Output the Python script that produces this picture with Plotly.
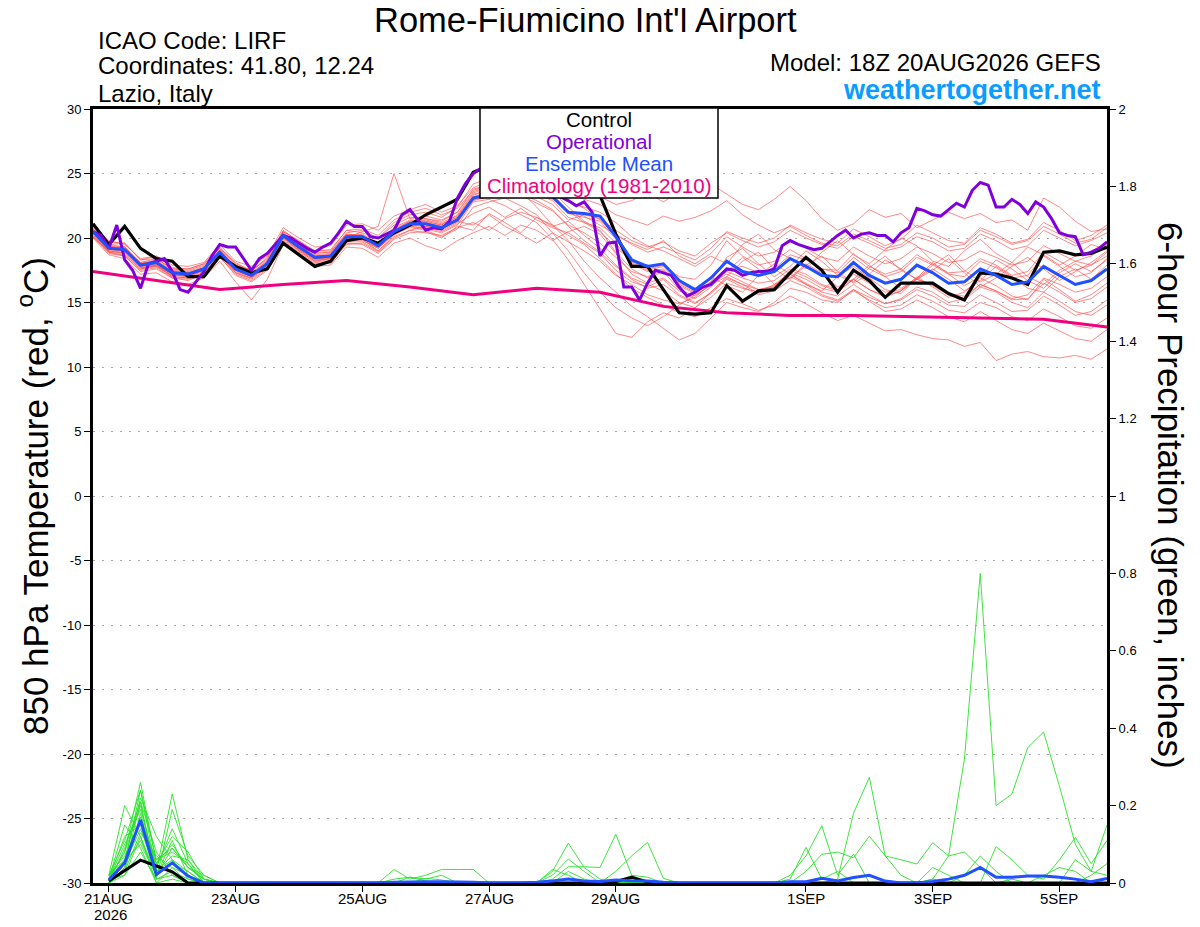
import pandas as pd
import plotly.graph_objects as go

title = "Rome-Fiumicino Int'l Airport"
info_left = ["ICAO Code: LIRF", "Coordinates: 41.80, 12.24", "Lazio, Italy"]
model_run = "Model: 18Z 20AUG2026 GEFS"
site = "weathertogether.net"
legend_rows = ["Control", "Operational", "Ensemble Mean", "Climatology (1981-2010)"]

tick_dates = ["2026-08-21", "2026-08-23", "2026-08-25", "2026-08-27",
              "2026-08-29", "2026-09-01", "2026-09-03", "2026-09-05"]
tick_labels = ["21AUG", "23AUG", "25AUG", "27AUG", "29AUG", "1SEP", "3SEP", "5SEP"]
year_label = "2026"
temp_ticks = [-30, -25, -20, -15, -10, -5, 0, 5, 10, 15, 20, 25, 30]
precip_ticks = [0, 0.2, 0.4, 0.6, 0.8, 1, 1.2, 1.4, 1.6, 1.8, 2]

# 850 hPa temperature, 6-hourly from 20AUG 18Z
control_t = [21.1, 19.5, 20.9, 19.2, 18.4, 18.2, 17.0, 17.0, 18.6, 17.8, 17.3, 17.6, 19.6,
             18.7, 17.8, 18.2, 19.8, 20.0, 19.6, 20.4, 21.0, 21.8, 22.4, 23.0, 25.1, 25.6,
             26.0, 26.3, 26.6, 26.2, 25.7, 25.0, 23.3, 20.3, 17.8, 17.8, 16.0, 14.2, 14.1,
             14.2, 16.3, 15.1, 15.9, 16.0, 17.3, 18.5, 17.5, 15.8, 17.5, 16.7, 15.4, 16.5,
             16.5, 16.5, 15.7, 15.2, 17.3, 17.2, 16.9, 16.4, 18.9, 19.0, 18.7, 18.8, 19.3]

mean_t = [20.5, 19.2, 19.1, 17.9, 18.1, 17.3, 17.2, 17.6, 18.9, 17.6, 17.1, 18.0, 20.2,
          19.3, 18.5, 18.6, 20.1, 20.1, 19.4, 20.5, 21.1, 21.1, 20.8, 21.4, 23.1, 23.4,
          23.6, 23.8, 23.6, 23.2, 22.0, 21.9, 21.7, 20.1, 18.3, 17.8, 18.0, 16.7, 16.0,
          16.9, 18.2, 17.4, 17.1, 17.4, 18.4, 17.8, 17.1, 17.0, 18.1, 17.1, 16.5, 16.8,
          17.9, 17.3, 16.5, 16.6, 17.6, 17.1, 16.4, 16.6, 17.8, 17.1, 16.4, 16.7, 17.6]

# operational run is 3-hourly
oper_t = [20.5, 20.2, 19.2, 21.0, 18.3, 17.5, 16.1, 18.0, 18.2, 18.4,
          17.4, 16.0, 15.8, 16.6, 17.4, 18.6, 19.5, 19.3, 19.3, 18.4,
          17.5, 18.4, 18.8, 19.5, 20.2, 20.0, 19.6, 19.2, 18.9, 19.3,
          19.6, 20.4, 21.3, 20.9, 20.9, 20.1, 20.0, 20.3, 20.6, 21.8,
          22.2, 21.4, 20.6, 20.8, 20.7, 21.3, 23.1, 24.2, 25.0, 25.4,
          25.8, 26.0, 26.2, 26.5, 26.3, 26.0, 25.6, 25.0, 24.2, 23.2,
          22.9, 22.5, 22.8, 22.0, 18.6, 19.6, 19.7, 16.2, 16.2, 15.2,
          16.5, 17.5, 17.3, 17.1, 16.2, 15.5, 15.8, 16.2, 16.4, 17.0,
          17.6, 17.5, 17.1, 17.3, 17.4, 17.4, 17.6, 19.4, 19.8, 19.5,
          19.3, 19.1, 19.2, 19.7, 20.2, 20.6, 20.0, 20.3, 20.4, 20.2,
          20.2, 19.7, 20.4, 20.8, 22.3, 22.1, 21.8, 21.7, 22.2, 22.7,
          22.4, 23.7, 24.3, 24.1, 22.4, 22.4, 23.0, 22.6, 21.9, 22.8,
          22.4, 21.5, 20.4, 20.2, 20.1, 18.7, 18.9, 19.2, 19.7]

# climatology, daily at 18Z
clim_t = [17.4, 16.7, 16.0, 16.4, 16.7, 16.2, 15.6, 16.1, 15.8,
          14.7, 14.2, 14.0, 14.0, 13.9, 13.8, 13.7, 13.1]

t01 = [20.7, 19.5, 19.6, 18.3, 18.6, 17.7, 17.6, 18.0, 19.2, 18.1, 17.4, 18.5, 20.5,
       19.8, 19.0, 19.1, 20.6, 20.4, 20.0, 21.2, 21.8, 22.0, 21.6, 22.4, 24.2, 24.6,
       24.8, 25.1, 24.7, 24.9, 24.3, 23.8, 23.2, 22.6, 22.9, 23.5, 22.8, 23.6, 23.5,
       24.2, 23.4, 22.6, 22.2, 23.0, 24.0, 22.9, 21.5, 20.6, 21.1, 22.2, 21.6, 21.9,
       20.8, 21.4, 22.0, 21.5, 21.9, 21.2, 21.4, 20.6, 23.1, 22.4, 21.3, 20.5, 20.7]
t02 = [20.1, 18.9, 18.6, 17.4, 17.6, 16.9, 16.8, 17.2, 18.6, 17.1, 16.6, 17.5, 19.8,
       18.9, 18.1, 18.0, 19.6, 19.5, 18.8, 19.9, 20.4, 20.5, 20.0, 20.9, 20.6, 21.9,
       21.2, 20.4, 21.6, 21.0, 20.2, 19.5, 18.4, 17.2, 16.1, 15.4, 14.8, 14.2, 13.9,
       14.6, 15.3, 14.9, 14.4, 14.8, 15.5, 14.9, 14.2, 13.6, 14.0, 13.4, 12.8, 12.9,
       12.5, 12.2, 12.1, 11.6, 11.9, 10.5, 11.0, 11.2, 10.8, 10.7, 10.9, 10.6, 11.4]
t03 = [20.3, 19.0, 18.8, 17.6, 17.9, 17.0, 16.9, 17.3, 18.7, 17.3, 16.9, 17.8, 20.0,
       19.1, 18.3, 18.3, 19.8, 19.9, 19.0, 20.2, 20.9, 20.7, 20.4, 21.0, 22.8, 23.0,
       22.5, 21.8, 21.2, 19.9, 18.3, 16.4, 14.5, 12.6, 12.3, 13.5, 14.2, 13.8, 14.6,
       15.8, 16.9, 16.4, 15.7, 16.2, 17.5, 17.0, 16.3, 15.9, 16.8, 16.0, 15.4, 15.9,
       17.0, 16.2, 15.4, 15.8, 16.9, 16.3, 15.5, 15.2, 16.8, 16.0, 15.1, 15.6, 16.5]
t04 = [20.6, 19.3, 19.2, 18.0, 18.3, 17.5, 17.4, 17.8, 19.0, 17.8, 17.3, 18.2, 20.4,
       19.5, 18.8, 18.9, 20.3, 20.2, 19.6, 20.8, 21.4, 21.3, 21.0, 21.8, 23.5, 23.9,
       24.1, 23.6, 22.4, 21.0, 19.8, 18.2, 16.9, 15.8, 14.7, 13.9, 13.0, 12.1, 12.6,
       13.8, 15.0, 14.6, 14.3, 15.0, 16.1, 15.8, 15.2, 15.0, 16.0, 15.4, 14.9, 15.3,
       16.2, 15.8, 15.0, 15.3, 16.4, 15.9, 15.3, 15.6, 16.9, 16.4, 15.8, 16.1, 17.0]
t05 = [20.4, 19.1, 19.0, 17.8, 17.9, 17.2, 17.0, 17.5, 18.8, 17.5, 17.0, 17.9, 20.1,
       19.2, 18.4, 18.5, 20.0, 20.5, 20.9, 25.0, 21.5, 21.7, 21.4, 22.0, 23.6, 24.0,
       23.9, 24.4, 24.1, 23.7, 22.9, 22.3, 21.4, 20.2, 19.6, 19.1, 19.8, 18.6, 18.0,
       18.8, 20.1, 19.3, 18.6, 18.9, 19.8, 19.2, 18.5, 18.2, 19.3, 18.6, 18.0, 18.4,
       19.3, 18.8, 18.1, 18.3, 19.0, 18.5, 17.9, 18.2, 19.4, 18.8, 18.2, 18.6, 19.5]
t06 = [20.0, 18.7, 18.4, 17.2, 17.3, 16.6, 16.4, 16.9, 18.2, 16.6, 15.2, 16.8, 19.5,
       18.6, 17.8, 17.9, 19.3, 19.2, 18.5, 19.6, 20.0, 19.4, 19.0, 19.8, 20.4, 20.9,
       20.2, 21.0, 20.6, 19.8, 20.5, 20.9, 20.3, 18.8, 17.2, 16.5, 16.9, 15.9, 15.3,
       16.2, 17.4, 16.9, 16.5, 16.7, 17.6, 17.2, 16.4, 16.0, 17.2, 16.5, 15.8, 16.0,
       16.8, 16.4, 15.6, 15.2, 16.2, 15.8, 15.0, 14.6, 15.8, 15.1, 14.3, 14.0, 14.8]
t07 = [20.9, 19.8, 19.5, 18.4, 18.6, 17.9, 17.8, 18.1, 19.5, 18.2, 17.8, 18.6, 20.8,
       20.0, 19.3, 19.4, 21.0, 21.1, 20.6, 21.7, 22.2, 22.6, 22.0, 22.5, 23.9, 24.4,
       25.0, 24.6, 24.2, 23.6, 22.4, 21.3, 20.6, 18.9, 17.6, 16.9, 17.4, 16.0, 15.5,
       16.4, 17.0, 18.2, 18.9, 17.6, 16.8, 17.9, 18.6, 17.4, 16.5, 17.2, 18.3, 17.6,
       16.8, 17.9, 18.7, 17.5, 16.6, 17.2, 18.1, 17.0, 16.4, 17.5, 18.2, 17.9, 18.6]
t08 = [20.2, 18.9, 18.9, 17.7, 17.8, 17.1, 17.0, 17.4, 18.6, 17.4, 16.9, 17.8, 20.1,
       19.0, 18.2, 18.4, 19.9, 19.8, 19.2, 20.3, 20.8, 20.6, 20.1, 20.7, 22.4, 22.8,
       23.1, 22.5, 21.8, 20.4, 19.0, 17.3, 15.8, 14.6, 13.8, 13.2, 13.9, 14.8, 15.6,
       16.3, 17.6, 17.8, 17.3, 17.6, 18.7, 18.3, 17.6, 17.3, 18.5, 17.6, 17.0, 17.4,
       18.5, 17.9, 17.2, 17.0, 18.2, 17.7, 16.9, 17.1, 18.6, 17.8, 17.0, 17.3, 18.4]
t09 = [20.6, 19.4, 19.1, 18.1, 18.2, 17.4, 17.3, 17.7, 19.0, 17.7, 17.2, 18.1, 20.3,
       19.4, 18.6, 18.7, 20.2, 20.0, 19.3, 20.4, 21.2, 21.4, 21.1, 21.6, 23.3, 23.8,
       24.2, 24.5, 24.0, 23.5, 22.8, 22.4, 22.0, 21.2, 20.1, 19.4, 19.0, 18.4, 17.8,
       18.6, 18.0, 19.5, 20.3, 19.1, 18.4, 17.6, 18.9, 19.8, 18.7, 18.0, 19.1, 20.0,
       19.4, 18.2, 17.8, 19.0, 19.9, 18.8, 18.1, 19.3, 18.7, 17.9, 18.6, 19.5, 19.1]
t10 = [20.5, 19.2, 19.3, 18.0, 18.1, 17.3, 17.2, 17.6, 18.9, 17.6, 17.1, 18.0, 20.2,
       19.3, 18.5, 18.6, 20.1, 20.3, 19.6, 20.7, 21.3, 21.2, 20.9, 21.5, 23.0, 23.3,
       23.4, 23.9, 23.2, 22.6, 21.4, 21.8, 21.5, 20.6, 19.8, 19.3, 19.7, 19.0, 18.6,
       19.6, 20.4, 19.8, 19.3, 19.7, 20.6, 20.0, 19.5, 19.2, 20.1, 19.6, 19.0, 19.3,
       20.1, 19.7, 19.0, 19.2, 20.3, 19.8, 19.1, 19.4, 20.6, 20.0, 19.4, 19.8, 20.4]
t11 = [20.3, 19.0, 18.9, 17.7, 17.9, 17.1, 17.1, 17.5, 18.8, 17.5, 17.0, 17.9, 20.0,
       19.1, 18.3, 18.4, 19.9, 19.9, 19.2, 20.3, 20.9, 20.8, 20.5, 21.1, 21.9, 22.4,
       21.6, 22.3, 21.4, 20.8, 20.4, 19.6, 18.8, 17.5, 16.6, 16.2, 16.8, 15.6, 15.0,
       15.7, 16.8, 16.2, 15.6, 15.9, 16.7, 16.2, 15.5, 15.1, 15.9, 15.2, 14.6, 14.8,
       15.6, 15.1, 14.4, 14.2, 15.0, 14.6, 13.9, 13.6, 14.5, 13.9, 13.2, 13.0, 13.8]
t12 = [20.8, 19.5, 19.3, 18.1, 18.4, 17.6, 17.5, 17.9, 19.2, 17.9, 17.5, 18.3, 20.5,
       19.7, 18.9, 18.9, 20.4, 20.6, 20.0, 21.0, 21.6, 21.5, 21.3, 22.0, 23.8, 24.1,
       24.5, 25.0, 25.3, 24.8, 23.6, 23.0, 22.6, 21.8, 21.4, 21.0, 21.7, 21.3, 21.6,
       22.1, 22.9, 21.8, 21.0, 20.4, 20.9, 20.2, 19.6, 19.4, 20.3, 19.8, 19.2, 19.5,
       20.4, 20.0, 19.3, 19.5, 20.6, 20.1, 19.5, 19.8, 20.9, 20.3, 19.6, 19.9, 20.8]
t13 = [20.4, 19.2, 19.0, 17.9, 18.0, 17.2, 17.1, 17.5, 18.9, 17.6, 17.1, 18.0, 20.2,
       19.2, 18.4, 18.5, 20.0, 20.1, 19.4, 20.5, 21.0, 20.9, 20.6, 21.2, 22.9, 23.2,
       23.6, 23.3, 22.7, 22.1, 21.0, 20.4, 19.6, 18.5, 17.4, 17.0, 17.5, 16.5, 15.9,
       17.0, 16.3, 15.8, 17.1, 18.0, 17.2, 16.4, 15.9, 17.0, 17.8, 16.9, 16.0, 15.7,
       16.9, 17.6, 16.8, 15.9, 16.7, 17.8, 17.0, 16.1, 15.8, 17.0, 17.6, 16.8, 17.9]
t14 = [20.2, 18.9, 18.7, 17.6, 17.8, 17.0, 16.9, 17.3, 18.7, 17.3, 16.8, 17.7, 19.9,
       19.0, 18.2, 18.2, 19.7, 19.7, 19.0, 20.1, 20.6, 20.4, 20.2, 20.8, 21.2, 20.6,
       21.5, 22.0, 21.6, 20.9, 21.3, 20.2, 19.2, 17.9, 16.9, 16.4, 15.9, 15.0, 14.6,
       15.4, 16.5, 16.1, 15.8, 16.4, 17.3, 16.8, 16.1, 15.8, 16.8, 16.0, 15.5, 15.9,
       16.8, 16.3, 15.6, 15.5, 16.4, 15.9, 15.2, 15.3, 16.5, 15.8, 15.0, 15.3, 16.2]
t15 = [20.7, 19.4, 19.3, 18.0, 18.2, 17.4, 17.3, 17.7, 19.1, 17.8, 17.3, 18.2, 20.4,
       19.5, 18.7, 18.8, 20.3, 20.2, 19.5, 20.6, 21.3, 21.5, 21.2, 21.7, 23.4, 23.7,
       24.0, 24.3, 24.1, 23.4, 22.1, 21.2, 20.5, 19.3, 18.2, 17.6, 17.9, 17.0, 16.8,
       17.9, 19.8, 18.6, 17.9, 18.2, 19.1, 18.4, 17.6, 17.5, 18.8, 17.8, 17.2, 17.6,
       18.7, 18.0, 17.3, 17.4, 18.4, 17.9, 17.1, 17.4, 18.9, 18.2, 17.5, 17.9, 18.9]
t16 = [20.1, 18.8, 18.6, 17.5, 17.7, 16.9, 16.7, 17.2, 18.5, 17.2, 16.7, 17.6, 19.7,
       18.8, 18.0, 18.1, 19.5, 19.6, 18.9, 20.0, 20.6, 20.9, 20.7, 21.3, 21.0, 21.8,
       20.9, 20.3, 19.6, 20.4, 19.7, 19.0, 18.2, 17.1, 16.4, 15.6, 15.2, 14.9, 15.4,
       16.5, 17.2, 16.6, 16.0, 16.2, 17.0, 16.4, 15.6, 15.2, 16.0, 15.1, 14.3, 14.5,
       15.2, 14.6, 13.9, 13.5, 14.3, 13.6, 12.9, 12.6, 13.4, 12.8, 12.2, 12.0, 12.9]
t17 = [20.6, 19.3, 19.2, 18.0, 18.2, 17.4, 17.3, 17.7, 19.0, 17.7, 17.2, 18.1, 20.3,
       19.4, 18.6, 18.7, 20.2, 20.2, 19.5, 20.6, 21.2, 21.3, 21.0, 21.6, 23.2, 23.6,
       23.9, 24.0, 23.8, 23.2, 21.9, 21.6, 21.3, 19.9, 18.1, 17.5, 17.8, 16.4, 15.8,
       16.6, 17.4, 18.5, 17.6, 16.4, 16.9, 18.0, 17.3, 16.2, 16.8, 17.9, 17.0, 16.1,
       16.9, 18.1, 17.2, 16.3, 17.0, 18.3, 17.6, 16.7, 16.1, 17.3, 18.0, 17.4, 18.3]
t18 = [20.9, 19.7, 19.6, 18.3, 18.4, 17.6, 17.6, 18.0, 19.3, 18.0, 17.5, 18.4, 20.6,
       19.7, 19.0, 19.0, 20.6, 20.7, 20.2, 21.4, 22.0, 22.3, 21.8, 22.3, 23.7, 24.1,
       24.3, 24.1, 23.5, 23.0, 22.1, 21.7, 21.0, 20.3, 19.5, 18.9, 19.3, 18.8, 18.3,
       19.2, 20.5, 20.0, 19.6, 20.0, 21.0, 20.4, 19.9, 19.6, 20.7, 20.1, 19.4, 19.9,
       21.0, 20.4, 19.8, 19.6, 20.8, 20.3, 19.6, 19.9, 21.2, 20.6, 19.8, 20.2, 21.0]
t19 = [20.4, 19.1, 19.0, 17.8, 18.0, 17.2, 17.1, 17.5, 18.8, 17.5, 17.0, 17.9, 20.1,
       19.2, 18.4, 18.4, 19.9, 19.9, 19.3, 20.4, 21.0, 21.1, 20.8, 21.3, 23.0, 23.2,
       23.4, 23.4, 22.9, 22.2, 20.9, 19.8, 18.9, 17.8, 16.8, 16.1, 16.4, 15.5, 14.9,
       15.8, 17.0, 16.4, 16.0, 16.3, 17.2, 16.5, 15.8, 15.5, 16.4, 15.6, 14.9, 15.2,
       16.0, 15.5, 14.8, 14.7, 15.6, 15.0, 14.3, 14.4, 15.5, 14.8, 14.0, 14.3, 15.2]
t20 = [20.5, 19.3, 19.1, 17.9, 18.1, 17.3, 17.2, 17.6, 18.9, 17.6, 17.1, 18.0, 20.2,
       19.3, 18.5, 18.6, 20.1, 20.0, 19.3, 20.4, 21.0, 21.0, 20.7, 21.3, 23.0, 23.3,
       23.5, 23.7, 23.4, 22.9, 21.6, 21.2, 20.8, 19.6, 18.0, 17.4, 17.6, 16.3, 15.7,
       16.6, 18.5, 19.2, 18.0, 17.0, 17.8, 19.0, 18.2, 17.1, 16.6, 17.7, 18.6, 17.5,
       16.8, 17.5, 18.4, 17.3, 16.2, 16.9, 17.8, 18.5, 17.6, 16.7, 17.4, 18.1, 19.0]
temp_members = [t01, t02, t03, t04, t05, t06, t07, t08, t09, t10,
                t11, t12, t13, t14, t15, t16, t17, t18, t19, t20]

# 6-hour precipitation (inches), 6-hourly from 21AUG 00Z
mean_p = [0.008, 0.052, 0.163, 0.022, 0.052, 0.018, 0, 0, 0, 0, 0, 0, 0, 0, 0, 0,
          0, 0, 0.002, 0.003, 0.003, 0.003, 0.003, 0.002, 0, 0, 0, 0.002, 0.005, 0.01, 0.005, 0.004,
          0.008, 0.006, 0.005, 0.002, 0, 0, 0, 0, 0, 0, 0, 0.003, 0.003, 0.012, 0.005, 0.014,
          0.02, 0.005, 0, 0, 0.004, 0.01, 0.02, 0.04, 0.015, 0.015, 0.018, 0.018, 0.015, 0.01, 0.003, 0.012]
control_p = [0.005, 0.032, 0.059, 0.044, 0.029, 0, 0, 0, 0, 0, 0, 0, 0, 0, 0, 0,
             0, 0, 0, 0, 0, 0, 0, 0, 0, 0, 0, 0, 0, 0, 0, 0,
             0.004, 0.015, 0.003, 0, 0, 0, 0, 0, 0, 0, 0, 0, 0, 0, 0, 0,
             0, 0, 0, 0, 0, 0, 0, 0, 0, 0, 0, 0, 0, 0, 0, 0]

p01 = [0.01, 0.08, 0.26, 0.05, 0.10, 0.04, 0.01, 0, 0, 0, 0, 0, 0, 0, 0, 0,
       0, 0, 0, 0, 0, 0, 0, 0, 0, 0, 0, 0, 0, 0, 0, 0,
       0, 0, 0, 0, 0, 0, 0, 0, 0, 0, 0, 0, 0, 0, 0, 0,
       0, 0, 0, 0, 0, 0, 0, 0, 0, 0, 0, 0, 0, 0, 0, 0]
p02 = [0, 0.05, 0.24, 0.03, 0.23, 0.06, 0.01, 0, 0, 0, 0, 0, 0, 0, 0, 0,
       0, 0, 0, 0, 0, 0, 0, 0, 0, 0, 0, 0, 0, 0, 0, 0,
       0, 0, 0, 0, 0, 0, 0, 0, 0, 0, 0, 0, 0, 0, 0, 0,
       0, 0, 0, 0, 0, 0, 0, 0, 0, 0, 0, 0.02, 0.04, 0.03, 0, 0]
p03 = [0.02, 0.20, 0.12, 0.02, 0.05, 0.02, 0, 0, 0, 0, 0, 0, 0, 0, 0, 0,
       0, 0, 0.035, 0.01, 0.02, 0.035, 0.035, 0.035, 0, 0, 0, 0, 0, 0, 0, 0,
       0, 0, 0, 0, 0, 0, 0, 0, 0, 0, 0, 0, 0, 0, 0, 0,
       0, 0, 0, 0, 0, 0, 0, 0, 0, 0, 0, 0, 0, 0, 0, 0]
p04 = [0.01, 0.06, 0.22, 0.12, 0.06, 0.03, 0, 0, 0, 0, 0, 0, 0, 0, 0, 0,
       0, 0, 0, 0, 0, 0, 0, 0, 0, 0, 0, 0, 0.03, 0.103, 0.04, 0.01,
       0, 0, 0, 0, 0, 0, 0, 0, 0, 0, 0, 0, 0, 0, 0, 0,
       0, 0, 0, 0, 0, 0, 0, 0, 0, 0, 0, 0, 0, 0, 0, 0]
p05 = [0, 0.04, 0.21, 0.01, 0.19, 0.07, 0.02, 0, 0, 0, 0, 0, 0, 0, 0, 0,
       0, 0, 0, 0, 0, 0, 0, 0, 0, 0, 0, 0, 0, 0, 0, 0,
       0, 0, 0, 0, 0, 0, 0, 0, 0, 0, 0, 0, 0, 0, 0, 0,
       0, 0, 0, 0, 0.01, 0.07, 0.32, 0.80, 0.20, 0.23, 0.35, 0.39, 0.25, 0.10, 0.03, 0.15]
p06 = [0.01, 0.10, 0.19, 0.04, 0.14, 0.05, 0, 0, 0, 0, 0, 0, 0, 0, 0, 0,
       0, 0, 0, 0, 0, 0, 0, 0, 0, 0, 0, 0, 0, 0, 0, 0,
       0, 0, 0, 0, 0, 0, 0, 0, 0, 0, 0, 0, 0, 0, 0.01, 0.18,
       0.273, 0.07, 0.06, 0.049, 0.104, 0.07, 0.08, 0.04, 0, 0, 0, 0, 0, 0, 0, 0]
p07 = [0, 0.03, 0.18, 0.02, 0.11, 0.02, 0, 0, 0, 0, 0, 0, 0, 0, 0, 0,
       0, 0, 0, 0.015, 0.01, 0.02, 0, 0, 0, 0, 0, 0, 0, 0, 0, 0,
       0, 0, 0, 0, 0, 0, 0, 0, 0, 0, 0, 0, 0, 0, 0, 0,
       0, 0, 0, 0, 0, 0, 0, 0, 0, 0, 0, 0, 0, 0, 0, 0]
p08 = [0.02, 0.07, 0.16, 0.06, 0.09, 0.04, 0.01, 0, 0, 0, 0, 0, 0, 0, 0, 0,
       0, 0, 0, 0, 0, 0, 0, 0, 0, 0, 0, 0, 0.02, 0.062, 0.03, 0,
       0, 0, 0, 0, 0, 0, 0, 0, 0, 0, 0, 0, 0, 0, 0, 0,
       0, 0, 0, 0, 0, 0, 0, 0, 0, 0, 0, 0, 0, 0, 0, 0]
p09 = [0.01, 0.12, 0.15, 0.01, 0.03, 0.01, 0, 0, 0, 0, 0, 0, 0, 0, 0, 0,
       0, 0, 0, 0, 0, 0, 0, 0, 0, 0, 0, 0, 0, 0, 0, 0,
       0, 0, 0, 0, 0, 0, 0, 0, 0, 0, 0, 0.02, 0.07, 0.148, 0.02, 0.075,
       0, 0, 0, 0, 0, 0, 0, 0, 0, 0, 0, 0, 0, 0, 0, 0]
p10 = [0, 0.05, 0.14, 0.03, 0.07, 0.06, 0, 0, 0, 0, 0, 0, 0, 0, 0, 0,
       0, 0, 0, 0, 0, 0, 0, 0, 0, 0, 0, 0, 0.01, 0.042, 0.042, 0.04,
       0.126, 0.02, 0, 0, 0, 0, 0, 0, 0, 0, 0, 0, 0, 0, 0, 0,
       0, 0, 0, 0, 0, 0, 0, 0, 0, 0, 0, 0, 0, 0, 0, 0]
p11 = [0.01, 0.02, 0.12, 0, 0.04, 0, 0, 0, 0, 0, 0, 0, 0, 0, 0, 0,
       0, 0, 0.01, 0.015, 0.005, 0, 0, 0, 0, 0, 0, 0, 0, 0, 0, 0,
       0, 0, 0, 0, 0, 0, 0, 0, 0, 0, 0, 0, 0, 0, 0, 0,
       0, 0, 0, 0, 0, 0, 0, 0, 0, 0, 0, 0, 0, 0, 0, 0]
p12 = [0, 0.09, 0.21, 0.08, 0.02, 0, 0, 0, 0, 0, 0, 0, 0, 0, 0, 0,
       0, 0, 0, 0, 0, 0, 0, 0, 0, 0, 0, 0, 0, 0.03, 0.01, 0,
       0.03, 0.07, 0.105, 0.012, 0, 0, 0, 0, 0, 0, 0, 0, 0, 0, 0, 0,
       0, 0, 0, 0, 0, 0, 0, 0, 0, 0, 0, 0, 0, 0, 0, 0]
p13 = [0.02, 0.06, 0.10, 0.02, 0.05, 0.03, 0, 0, 0, 0, 0, 0, 0, 0, 0, 0,
       0, 0, 0, 0, 0, 0, 0, 0, 0, 0, 0, 0, 0, 0, 0, 0,
       0, 0, 0, 0, 0, 0, 0, 0, 0, 0, 0, 0, 0.03, 0.074, 0.08, 0.065,
       0.121, 0.07, 0.02, 0, 0, 0, 0, 0, 0, 0, 0, 0, 0, 0, 0, 0]
p14 = [0, 0.04, 0.17, 0.05, 0.12, 0.08, 0.01, 0, 0, 0, 0, 0, 0, 0, 0, 0,
       0, 0, 0, 0, 0.012, 0.008, 0, 0, 0, 0, 0, 0, 0, 0, 0, 0,
       0, 0, 0, 0, 0, 0, 0, 0, 0, 0, 0, 0, 0, 0, 0, 0,
       0, 0, 0, 0, 0, 0, 0, 0, 0, 0, 0, 0, 0, 0, 0, 0]
p15 = [0.01, 0.15, 0.09, 0, 0.01, 0, 0, 0, 0, 0, 0, 0, 0, 0, 0, 0,
       0, 0, 0, 0, 0, 0, 0, 0, 0, 0, 0, 0, 0, 0, 0, 0,
       0, 0, 0, 0, 0, 0, 0, 0, 0, 0, 0, 0, 0, 0, 0, 0,
       0, 0, 0, 0, 0, 0, 0, 0, 0.094, 0.06, 0.02, 0.01, 0.06, 0.118, 0.05, 0.11]
p16 = [0, 0.03, 0.13, 0.07, 0.04, 0.02, 0, 0, 0, 0, 0, 0, 0, 0, 0, 0,
       0, 0, 0, 0, 0, 0, 0, 0, 0, 0, 0, 0, 0.035, 0.02, 0, 0,
       0, 0, 0, 0, 0, 0, 0, 0, 0, 0, 0, 0, 0, 0, 0, 0,
       0, 0, 0, 0, 0, 0, 0, 0, 0, 0, 0, 0, 0, 0, 0, 0]
p17 = [0.01, 0.08, 0.20, 0.03, 0.06, 0.01, 0, 0, 0, 0, 0, 0, 0, 0, 0, 0,
       0, 0, 0, 0, 0, 0, 0, 0, 0, 0, 0, 0, 0, 0, 0, 0,
       0, 0, 0, 0, 0, 0, 0, 0, 0, 0, 0, 0.01, 0.092, 0.01, 0.03, 0,
       0, 0, 0, 0, 0, 0, 0, 0, 0, 0, 0, 0, 0, 0, 0, 0]
p18 = [0, 0.02, 0.08, 0.01, 0.02, 0, 0, 0, 0, 0, 0, 0, 0, 0, 0, 0,
       0, 0, 0, 0, 0, 0, 0, 0, 0, 0, 0, 0, 0, 0, 0, 0,
       0, 0.02, 0.015, 0, 0, 0, 0, 0, 0, 0, 0, 0, 0, 0, 0, 0,
       0, 0, 0, 0, 0, 0, 0, 0, 0, 0, 0, 0, 0, 0, 0, 0]
p19 = [0.02, 0.11, 0.24, 0.06, 0.08, 0.05, 0, 0, 0, 0, 0, 0, 0, 0, 0, 0,
       0, 0, 0, 0, 0, 0, 0, 0, 0, 0, 0, 0, 0, 0, 0, 0,
       0, 0, 0, 0, 0, 0, 0, 0, 0, 0, 0, 0, 0, 0, 0, 0,
       0, 0, 0, 0, 0.01, 0, 0.02, 0.07, 0.03, 0, 0, 0, 0, 0.06, 0.03, 0.02]
p20 = [0, 0.05, 0.11, 0.02, 0.09, 0.04, 0.02, 0, 0, 0, 0, 0, 0, 0, 0, 0,
       0, 0, 0, 0, 0, 0, 0, 0, 0, 0, 0, 0, 0, 0, 0, 0,
       0, 0, 0, 0, 0, 0, 0, 0, 0, 0, 0, 0, 0, 0, 0, 0,
       0, 0, 0, 0, 0.04, 0.02, 0, 0, 0, 0.01, 0, 0, 0, 0, 0.02, 0.05]
precip_members = [p01, p02, p03, p04, p05, p06, p07, p08, p09, p10,
                  p11, p12, p13, p14, p15, p16, p17, p18, p19, p20]

# ---- time axes ----
t_times = pd.date_range("2026-08-20 18:00", periods=len(mean_t), freq="6h")
op_times = pd.date_range("2026-08-20 18:00", periods=len(oper_t), freq="3h")
clim_times = pd.date_range("2026-08-20 18:00", periods=len(clim_t), freq="24h")
p_times = pd.date_range("2026-08-21 00:00", periods=len(mean_p), freq="6h")

C_OPER = "#8000dc"
C_MEAN = "#2050ff"
C_CLIM = "#f0007f"
C_RED = "rgba(255,70,70,0.8)"
C_GREEN = "rgb(40,225,40)"
FONT = "Liberation Sans, Arial, sans-serif"

# plot area in page pixels (window 1200 x 927, page body has an 8px margin)
L, R, T, B = 93, 1107, 109, 883
W, H = 1192, 919


def px(x):
    return (x - L) / (R - L)


def py(y):
    return (B - y) / (B - T)


fig = go.Figure()

for m in temp_members:
    fig.add_trace(go.Scatter(x=t_times, y=m, mode="lines",
                             line=dict(color=C_RED, width=0.8), hoverinfo="skip"))
fig.add_trace(go.Scatter(x=clim_times, y=clim_t, mode="lines", line=dict(color=C_CLIM, width=3)))
fig.add_trace(go.Scatter(x=t_times, y=control_t, mode="lines", line=dict(color="black", width=3.2)))
fig.add_trace(go.Scatter(x=op_times, y=oper_t, mode="lines", line=dict(color=C_OPER, width=3)))
fig.add_trace(go.Scatter(x=t_times, y=mean_t, mode="lines", line=dict(color=C_MEAN, width=3)))

for m in precip_members:
    fig.add_trace(go.Scatter(x=p_times, y=m, mode="lines", yaxis="y2",
                             line=dict(color=C_GREEN, width=0.9), hoverinfo="skip"))
fig.add_trace(go.Scatter(x=p_times, y=control_p, mode="lines", yaxis="y2",
                         line=dict(color="black", width=3)))
fig.add_trace(go.Scatter(x=p_times, y=mean_p, mode="lines", yaxis="y2",
                         line=dict(color=C_MEAN, width=3)))

fig.update_layout(
    width=W, height=H,
    margin=dict(l=L - 8, r=W - (R - 8), t=T - 8, b=H - (B - 8)),
    paper_bgcolor="white", plot_bgcolor="white",
    showlegend=False,
    font=dict(family=FONT, color="black"),
    xaxis=dict(
        type="date", range=["2026-08-20 18:00", "2026-09-05 18:00"],
        tickvals=tick_dates, showticklabels=False,
        ticks="outside", ticklen=6, tickcolor="black", automargin=False,
        showgrid=False, zeroline=False,
        showline=True, linewidth=3, linecolor="black", mirror=True,
    ),
    yaxis=dict(
        range=[-30, 30], tickvals=temp_ticks, ticktext=[str(v) for v in temp_ticks],
        tickfont=dict(size=13), ticks="outside", ticklen=6, tickcolor="black",
        showgrid=True, gridcolor="#a8a8a8", griddash="2px,7px", gridwidth=1,
        zeroline=False, showline=True, linewidth=3, linecolor="black", automargin=False,
    ),
    yaxis2=dict(
        overlaying="y", side="right", range=[0, 2],
        tickvals=precip_ticks, ticktext=[f"{v:g}" for v in precip_ticks],
        tickfont=dict(size=13), ticks="outside", ticklen=6, tickcolor="black",
        showgrid=False, zeroline=False, automargin=False,
        showline=True, linewidth=3, linecolor="black",
    ),
)

# legend box drawn over the lines
fig.add_shape(type="rect", xref="paper", yref="paper",
              x0=px(480), x1=px(718), y0=py(198), y1=py(108),
              fillcolor="white", line=dict(color="black", width=1.5), layer="above")

ann = [
    dict(text=title, x=px(585), y=py(20), font=dict(size=34.5)),
    dict(text=info_left[0], x=px(97), y=py(40), xanchor="left", font=dict(size=24)),
    dict(text=info_left[1], x=px(97), y=py(66), xanchor="left", font=dict(size=24)),
    dict(text=info_left[2], x=px(97), y=py(93), xanchor="left", font=dict(size=24)),
    dict(text=model_run, x=px(1102), y=py(62), xanchor="right", font=dict(size=24)),
    dict(text=f"<b>{site}</b>", x=px(1102), y=py(90), xanchor="right",
         font=dict(size=27, color="#0a9cff")),
    dict(text=year_label, x=px(110), y=py(914), font=dict(size=15)),
    dict(text="850 hPa Temperature (red, <sup>o</sup>C)", x=px(33), y=py(496),
         textangle=-90, font=dict(size=35)),
    dict(text="6-hour Precipitation (green, inches)", x=px(1170), y=py(495),
         textangle=90, font=dict(size=35)),
]
# date tick labels under the axis
for d, lab in zip(tick_dates, tick_labels):
    ann.append(dict(text=lab, x=d, xref="x", y=py(898), font=dict(size=15)))

legend_colors = ["black", C_OPER, C_MEAN, C_CLIM]
legend_y = [120, 142, 163, 185]
for txt, col, yy in zip(legend_rows, legend_colors, legend_y):
    ann.append(dict(text=txt, x=px(599), y=py(yy), font=dict(size=20.5, color=col)))

for a in ann:
    a.setdefault("xanchor", "center")
    a.setdefault("yanchor", "middle")
    a.setdefault("xref", "paper")
    a.update(yref="paper", showarrow=False, borderpad=0)
fig.update_layout(annotations=ann)

fig.write_html("out.html")
